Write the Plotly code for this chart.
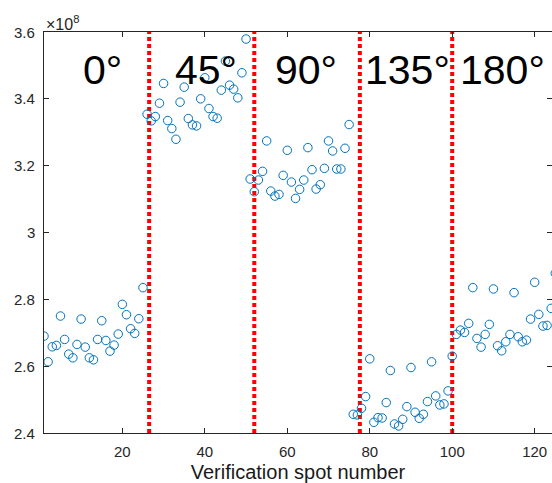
import plotly.graph_objects as go

# Data (values in units of 1e8)
g0 = [2.690, 2.613, 2.658, 2.662, 2.750, 2.680, 2.636, 2.625, 2.665, 2.741,
      2.657, 2.625, 2.619, 2.680, 2.736, 2.677, 2.645, 2.663, 2.696, 2.785,
      2.754, 2.712, 2.698, 2.742, 2.835]
g45 = [3.354, 3.334, 3.347, 3.387, 3.446, 3.335, 3.311, 3.279, 3.390, 3.435,
       3.341, 3.322, 3.319, 3.400, 3.463, 3.371, 3.347, 3.342, 3.426, 3.513,
       3.441, 3.429, 3.403, 3.478, 3.579]
g90 = [3.160, 3.122, 3.157, 3.183, 3.274, 3.124, 3.109, 3.114, 3.171, 3.246,
       3.151, 3.102, 3.129, 3.157, 3.254, 3.188, 3.130, 3.143, 3.192, 3.274,
       3.244, 3.190, 3.190, 3.252, 3.323]
g135 = [2.456, 2.454, 2.474, 2.509, 2.622, 2.432, 2.446, 2.445, 2.491, 2.587,
        2.427, 2.421, 2.441, 2.479, 2.596, 2.462, 2.444, 2.456, 2.494, 2.613,
        2.511, 2.484, 2.487, 2.526, 2.630]
g180 = [2.695, 2.708, 2.701, 2.728, 2.835, 2.683, 2.657, 2.695, 2.725, 2.831,
        2.661, 2.646, 2.673, 2.695, 2.820, 2.688, 2.673, 2.678, 2.741, 2.851,
        2.755, 2.720, 2.722, 2.773, 2.878]

values = g0 + g45 + g90 + g135 + g180
spots = list(range(1, len(values) + 1))

divider_x = [26.5, 52, 77.6, 100]
labels = ["0°", "45°", "90°", "135°", "180°"]
label_x = [15.2, 40.2, 64.5, 89.2, 112.2]
label_y = 3.485

x_ticks = [20, 40, 60, 80, 100, 120]
y_ticks = [2.4, 2.6, 2.8, 3.0, 3.2, 3.4, 3.6]
y_ticktext = ["2.4", "2.6", "2.8", "3", "3.2", "3.4", "3.6"]

AX = "#262626"
FONT = "Liberation Sans, Arial, sans-serif"

fig = go.Figure()

for xv in divider_x:
    fig.add_trace(go.Scatter(
        x=[xv, xv], y=[y_ticks[0], y_ticks[-1]], mode="lines",
        line=dict(color="#FF0000", width=4, dash="4px,3px"),
        hoverinfo="skip", showlegend=False))

fig.add_trace(go.Scatter(
    x=spots, y=values, mode="markers",
    marker=dict(symbol="circle-open", size=8.5, color="#0072BD",
                line=dict(width=1, color="#0072BD")),
    showlegend=False))

# invisible trace to carry the right-hand tick axis
fig.add_trace(go.Scatter(x=[spots[0]], y=[values[0]], yaxis="y2", mode="markers",
                         marker=dict(opacity=0), hoverinfo="skip", showlegend=False))

for t, xv in zip(labels, label_x):
    fig.add_annotation(x=xv, y=label_y, text=t, showarrow=False,
                       font=dict(family=FONT, size=41, color="black"),
                       xanchor="center", yanchor="middle")

# y tick labels placed next to the axis (MATLAB-like spacing)
for yv, yt in zip(y_ticks, y_ticktext):
    fig.add_annotation(xref="paper", yref="y", x=0, y=yv, text=yt,
                       showarrow=False, xanchor="right", yanchor="middle",
                       xshift=-7, font=dict(family=FONT, size=15, color=AX))

fig.add_annotation(xref="paper", yref="paper", x=0, y=1, text="×10<sup>8</sup>",
                   showarrow=False, xanchor="left", yanchor="bottom",
                   font=dict(family=FONT, size=16, color=AX), yshift=-3)

fig.update_layout(
    width=552, height=483,
    margin=dict(l=44, r=0, t=32, b=50),
    paper_bgcolor="white", plot_bgcolor="white",
    font=dict(family=FONT, size=15, color=AX),
    xaxis=dict(range=[1, 124.2], tickvals=x_ticks, ticks="inside", ticklen=5,
               tickcolor=AX, showline=True, linecolor=AX, linewidth=1,
               mirror="ticks", showgrid=False, zeroline=False,
               ticklabelstandoff=5,
               tickfont=dict(family=FONT, size=15, color=AX),
               title=dict(text="Verification spot number",
                          font=dict(family=FONT, size=20, color="#1a1a1a"),
                          standoff=5)),
    yaxis=dict(range=[2.4, 3.6], tickvals=y_ticks, showticklabels=False,
               ticks="inside", ticklen=5, tickcolor=AX, showline=True,
               linecolor=AX, linewidth=1, showgrid=False, zeroline=False),
    yaxis2=dict(range=[2.4, 3.6], overlaying="y", side="right",
                tickvals=y_ticks, ticks="inside", ticklen=5, tickcolor=AX,
                showticklabels=False, showline=False, showgrid=False,
                zeroline=False),
)

fig.write_html("out.html")
